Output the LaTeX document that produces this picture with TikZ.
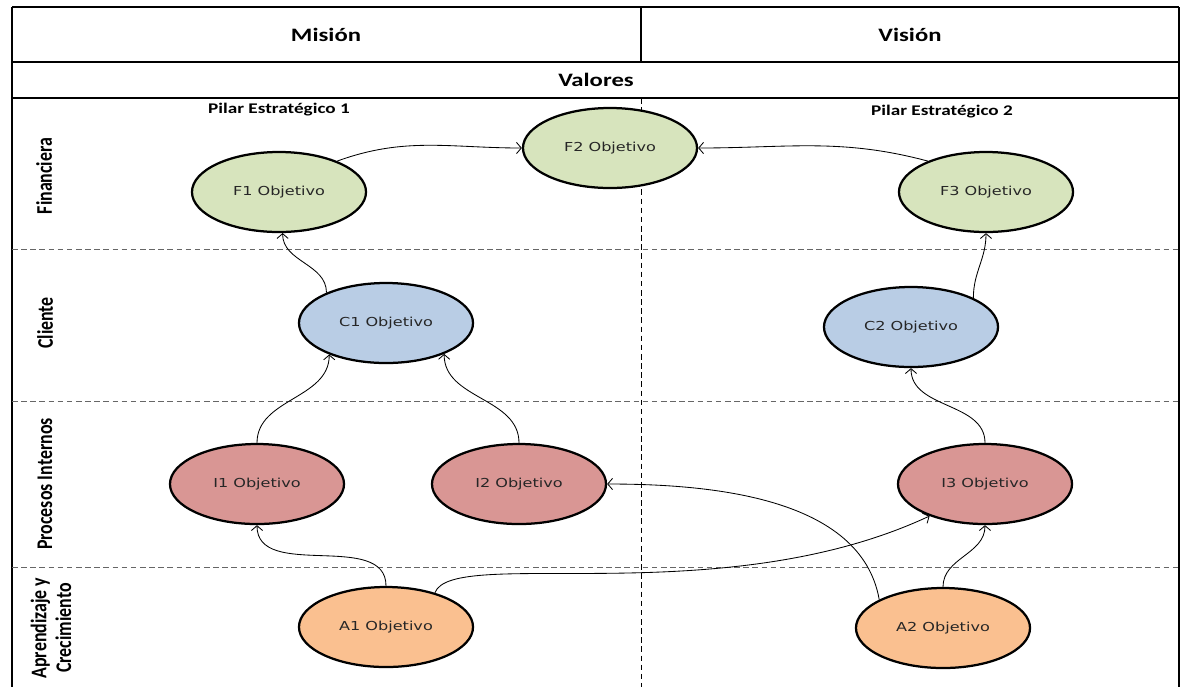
\documentclass[tikz,border=0pt]{standalone}
\usepackage{fontspec}
\setmainfont{Carlito}
\newfontfamily\hdfont[FakeStretch=1.3]{Carlito}
\newfontfamily\ovfont[FakeStretch=1.3]{DejaVu Sans}
\newfontfamily\rowfont[FakeStretch=0.8]{Carlito}
\usetikzlibrary{arrows.meta,shapes.geometric}
\definecolor{finc}{HTML}{D7E4BD}
\definecolor{clic}{HTML}{B9CDE5}
\definecolor{proc}{HTML}{D99694}
\definecolor{aprc}{HTML}{FAC090}

\begin{document}
\begin{tikzpicture}[x=0.025cm,y=-0.025cm]
    \tikzstyle{obj}=[ellipse,draw,line width=1.6pt,minimum width=4.35cm,minimum height=2cm,inner sep=0pt,font=\ovfont\fontsize{8.8}{10}\selectfont,text=black!85]
    \tikzstyle{hd}=[font=\hdfont\bfseries\fontsize{13.5}{16}\selectfont]
    \tikzstyle{pilar}=[font=\hdfont\bfseries\fontsize{10.5}{12}\selectfont]
    \tikzstyle{row}=[rotate=90,align=center,font=\rowfont\bfseries\fontsize{15.9}{17.7}\selectfont]
    \tikzstyle{sep}=[gray!80!black,line width=0.7pt,dash pattern=on 4pt off 2.5pt]
    \tikzstyle{link}=[line width=0.6pt,-{Straight Barb[length=1.2mm,width=2.8mm]}]
    \useasboundingbox (0,0) rectangle (1181,687);
    \draw[line width=1.4pt] (12,7) -- (1179,7) (12,62) -- (1179,62) (12,98) -- (1179,98);
    \draw[line width=1.4pt] (641,7) -- (641,62) (1179,7) -- (1179,687);
    \draw[line width=2pt] (12,7) -- (12,687);
    \draw[sep] (12,249) -- (1179,249) (12,401) -- (1179,401) (12,567) -- (1179,567);
    \draw[sep,black] (641,98) -- (641,687);
    \node[hd] (mision) at (326,35) {Misión};
    \node[hd] (vision) at (910,35) {Visión};
    \node[hd] (valores) at (596,80) {Valores};
    \node[pilar] (p1) at (279,110) {Pilar Estratégico 1};
    \node[pilar] (p2) at (942,112) {Pilar Estratégico 2};
    \node[row] (rfin) at (44,176) {Financiera};
    \node[row] (rcli) at (45,323) {Cliente};
    \node[row] (rpro) at (45,484) {Procesos Internos};
    \node[row] (rapr) at (51,628) {Aprendizaje y\\Crecimiento};
    \node[obj,fill=finc] (f1) at (279,192) {F1 Objetivo};
    \node[obj,fill=finc] (f2) at (610,148) {F2 Objetivo};
    \node[obj,fill=finc] (f3) at (986,192) {F3 Objetivo};
    \node[obj,fill=clic] (c1) at (386,323) {C1 Objetivo};
    \node[obj,fill=clic] (c2) at (911,327) {C2 Objetivo};
    \node[obj,fill=proc] (i1) at (257,484) {I1 Objetivo};
    \node[obj,fill=proc] (i2) at (519,484) {I2 Objetivo};
    \node[obj,fill=proc] (i3) at (985,484) {I3 Objetivo};
    \node[obj,fill=aprc] (a1) at (386,627) {A1 Objetivo};
    \node[obj,fill=aprc] (a2) at (943,628) {A2 Objetivo};
    \draw[link] (f1.28) to[out=20,in=180] (f2.west);
    \draw[link] (f3.152) to[out=165,in=0] (f2.east);
    \draw[link] (c1.153) to[out=90,in=-90] (f1.-85);
    \draw[link] (c2.25) to[out=90,in=-90] (f3.south);
    \draw[link] (i1.north) to[out=90,in=-90] (c1.209);
    \draw[link] (i2.north) to[out=90,in=-90] (c1.-28);
    \draw[link] (i3.north) to[out=90,in=-90] (c2.south);
    \draw[link] (a1.north) to[out=90,in=-90] (i1.south);
    \draw[link] (a1.35) to[out=70,in=205,out distance=1.25cm,in distance=5.75cm] (i3.210);
    \draw[link] (a2.156) to[out=100,in=0,looseness=0.9] (i2.east);
    \draw[link] (a2.north) to[out=90,in=-90] (i3.south);
\end{tikzpicture}
\end{document}
